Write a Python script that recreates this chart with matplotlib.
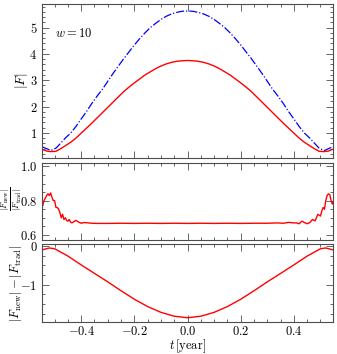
import numpy as np
import matplotlib
matplotlib.use("Agg")
import matplotlib.pyplot as plt
from matplotlib.ticker import MultipleLocator

plt.rcParams["font.family"] = "serif"
plt.rcParams["font.serif"] = ["cmr10"]
plt.rcParams["mathtext.fontset"] = "cm"
plt.rcParams["axes.formatter.use_mathtext"] = True
plt.rcParams["font.size"] = 9

# |F| curves
t_abs = [-0.547, -0.53, -0.515, -0.495, -0.477, -0.46, -0.44, -0.42, -0.40, -0.38,
         -0.36, -0.34, -0.32, -0.30, -0.28, -0.26, -0.24, -0.22, -0.20, -0.18,
         -0.16, -0.14, -0.12, -0.10, -0.08, -0.06, -0.04, -0.02, 0.0,
         0.02, 0.04, 0.06, 0.08, 0.10, 0.12, 0.14, 0.16, 0.18, 0.20,
         0.22, 0.24, 0.26, 0.28, 0.30, 0.32, 0.34, 0.36, 0.38, 0.40,
         0.42, 0.44, 0.46, 0.477, 0.495, 0.515, 0.53, 0.547]
f_trad = [0.47, 0.40, 0.33, 0.42, 0.61, 0.80, 0.99, 1.24, 1.53, 1.81,
          2.12, 2.40, 2.66, 2.96, 3.26, 3.54, 3.82, 4.08, 4.34, 4.58,
          4.80, 5.00, 5.16, 5.31, 5.43, 5.52, 5.58, 5.62, 5.63,
          5.62, 5.58, 5.52, 5.43, 5.31, 5.16, 5.00, 4.80, 4.58, 4.34,
          4.08, 3.82, 3.54, 3.26, 2.96, 2.66, 2.40, 2.12, 1.81, 1.53,
          1.24, 0.99, 0.80, 0.61, 0.42, 0.33, 0.40, 0.47]
f_new = [0.38, 0.31, 0.29, 0.30, 0.40, 0.51, 0.64, 0.80, 0.99, 1.18,
         1.37, 1.57, 1.77, 1.97, 2.17, 2.37, 2.57, 2.74, 2.90, 3.05,
         3.20, 3.32, 3.44, 3.54, 3.62, 3.68, 3.72, 3.74, 3.75,
         3.74, 3.72, 3.68, 3.62, 3.54, 3.44, 3.32, 3.20, 3.05, 2.90,
         2.74, 2.57, 2.37, 2.17, 1.97, 1.77, 1.57, 1.37, 1.18, 0.99,
         0.80, 0.64, 0.51, 0.40, 0.30, 0.29, 0.31, 0.38]

# ratio panel
t_ratio = [-0.547, -0.545, -0.54, -0.53, -0.525, -0.52, -0.515, -0.51, -0.505, -0.50, -0.495,
           -0.49, -0.485, -0.48, -0.475, -0.47, -0.465, -0.46, -0.455, -0.45, -0.445,
           -0.44, -0.435, -0.43, -0.42, -0.41, -0.40, -0.39, -0.38, -0.36, -0.34,
           -0.30, -0.25, -0.20, -0.15, -0.10, -0.05, 0.0, 0.05, 0.10, 0.15, 0.20,
           0.25, 0.30, 0.34, 0.36, 0.38, 0.40, 0.41, 0.42, 0.43, 0.44, 0.45,
           0.46, 0.47, 0.48, 0.49, 0.50, 0.505, 0.51, 0.515, 0.52, 0.525, 0.53,
           0.535, 0.54, 0.545, 0.547]
ratio = [0.78, 0.77, 0.80, 0.83, 0.84, 0.83, 0.845, 0.82, 0.80, 0.80, 0.76,
         0.76, 0.75, 0.73, 0.70, 0.72, 0.69, 0.70, 0.685, 0.68, 0.69,
         0.675, 0.67, 0.675, 0.685, 0.675, 0.668, 0.672, 0.671, 0.668, 0.667,
         0.667, 0.668, 0.667, 0.668, 0.667, 0.668, 0.667, 0.668, 0.667, 0.668, 0.667,
         0.668, 0.668, 0.670, 0.668, 0.673, 0.670, 0.670, 0.665, 0.680, 0.672, 0.665,
         0.672, 0.690, 0.682, 0.720, 0.710, 0.740, 0.760, 0.750, 0.800, 0.830, 0.840,
         0.835, 0.800, 0.780, 0.790]

# difference panel
t_diff = [-0.547, -0.52, -0.50, -0.45, -0.40, -0.35, -0.30, -0.25, -0.20, -0.15,
          -0.10, -0.05, 0.0, 0.05, 0.10, 0.15, 0.20, 0.25, 0.30, 0.35, 0.40,
          0.45, 0.50, 0.52, 0.547]
diff = [-0.10, -0.05, -0.07, -0.26, -0.49, -0.71, -0.93, -1.16, -1.38, -1.57,
        -1.72, -1.82, -1.86, -1.82, -1.72, -1.57, -1.38, -1.16, -0.93, -0.71, -0.49,
        -0.26, -0.07, -0.05, -0.10]

W, H = 337, 354
fig = plt.figure(figsize=(W / 100, H / 100), dpi=100)
left, width = 0.125, 0.863
ax1 = fig.add_axes([left, 0.554, width, 0.435])
ax2 = fig.add_axes([left, 0.322, width, 0.2175])
ax3 = fig.add_axes([left, 0.0904, width, 0.22])

ax1.plot(t_abs, f_trad, color="blue", linestyle="-.", linewidth=0.9)
ax1.plot(t_abs, f_new, color="red", linestyle="-", linewidth=1.0)
ax1.set_ylim(0.05, 5.9)
ax1.yaxis.set_major_locator(MultipleLocator(1))
ax1.yaxis.set_minor_locator(MultipleLocator(0.2))
ax1.text(-0.497, 4.76, r"$w = 10$", fontsize=9, va="center")

ax2.plot(t_ratio, ratio, color="red", linewidth=1.0)
ax2.set_ylim(0.57, 1.02)
ax2.yaxis.set_major_locator(MultipleLocator(0.2))
ax2.yaxis.set_minor_locator(MultipleLocator(0.05))

ax3.plot(t_diff, diff, color="red", linewidth=1.0)
ax3.set_ylim(-1.97, 0.05)
ax3.yaxis.set_major_locator(MultipleLocator(1))
ax3.yaxis.set_minor_locator(MultipleLocator(0.25))
ax3.set_xlabel(r"$t\,$[year]", labelpad=0)

# y labels placed by hand (pixel centres)
fig.text(21.5 / W, 1 - 81 / H, r"$|F|$", rotation=90, ha="center", va="center", fontsize=10)
fig.text(11.5 / W, 1 - 199 / H, r"$\frac{|F_{\rm new}|}{|F_{\rm trad}|}$",
         rotation=90, ha="center", va="center", fontsize=9)
fig.text(16 / W, 1 - 283 / H, r"$|F_{\rm new}| - |F_{\rm trad}|$",
         rotation=90, ha="center", va="center", fontsize=9)

for ax in (ax1, ax2, ax3):
    ax.set_xlim(-0.547, 0.547)
    ax.xaxis.set_major_locator(MultipleLocator(0.2))
    ax.xaxis.set_minor_locator(MultipleLocator(0.05))
    ax.tick_params(which="both", direction="in", top=True, right=True, width=0.6,
                   colors="0.3", labelcolor="black")
    ax.tick_params(which="major", length=5)
    ax.tick_params(which="minor", length=2.5)
    ax.tick_params(axis="x", pad=2)
    for s in ax.spines.values():
        s.set_linewidth(0.8)
        s.set_color("0.3")
for ax in (ax1, ax2):
    ax.tick_params(labelbottom=False)

fig.savefig("out.png", dpi=100)
